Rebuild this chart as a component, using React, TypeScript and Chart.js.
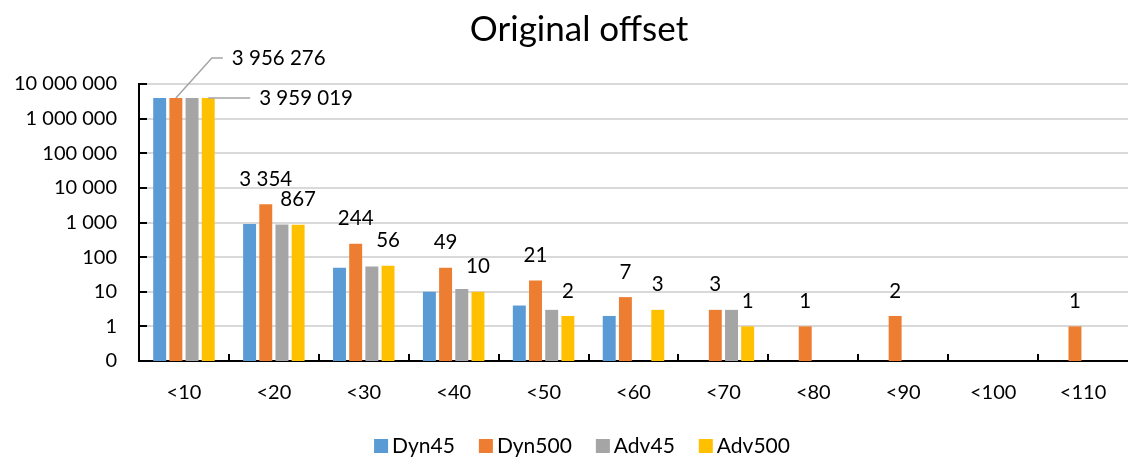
import React, { useEffect, useRef } from "react";
import { Chart, registerables } from "chart.js";

Chart.register(...registerables);

const categories = ["<10", "<20", "<30", "<40", "<50", "<60", "<70", "<80", "<90", "<100", "<110"];
const seriesNames = ["Dyn45", "Dyn500", "Adv45", "Adv500"];
const seriesColors = ["#5B9BD5", "#ED7D31", "#A5A5A5", "#FFC000"];
const dyn45 = [3950000, 900, 49, 10, 4, 2, null, null, null, null, null];
const dyn500 = [3956276, 3354, 244, 49, 21, 7, 3, 1, 2, null, 1];
const adv45 = [3955000, 870, 54, 12, 3, null, 3, null, null, null, null];
const adv500 = [3959019, 867, 56, 10, 2, 3, 1, null, null, null, null];
const yTickValues = [0.1, 1, 10, 100, 1000, 10000, 100000, 1000000, 10000000];
const labelledSeries = [1, 3];
const titleText = "Original offset";

const FONT = "Lato";

function fmt(v: number): string {
  if (v < 1) return "0";
  return String(Math.round(v)).replace(/\B(?=(\d{3})+(?!\d))/g, " ");
}

const overlay = {
  id: "overlay",
  afterDatasetsDraw(chart: any) {
    const ctx = chart.ctx as CanvasRenderingContext2D;
    const xs = chart.scales.x;
    const ys = chart.scales.y;
    const area = chart.chartArea;
    ctx.save();
    ctx.strokeStyle = "#000";
    ctx.lineWidth = 2;
    // inward y ticks
    yTickValues.forEach((v) => {
      const py = Math.round(ys.getPixelForValue(v));
      ctx.beginPath();
      ctx.moveTo(area.left, py);
      ctx.lineTo(area.left + 8, py);
      ctx.stroke();
    });
    // inward x ticks at category boundaries
    for (let i = 1; i < categories.length; i++) {
      const px = Math.round((xs.getPixelForValue(i - 1) + xs.getPixelForValue(i)) / 2);
      ctx.beginPath();
      ctx.moveTo(px, area.bottom);
      ctx.lineTo(px, area.bottom - 7);
      ctx.stroke();
    }
    // data labels
    ctx.fillStyle = "#000";
    ctx.font = `20.5px ${FONT}`;
    ctx.textBaseline = "middle";
    labelledSeries.forEach((di) => {
      const meta = chart.getDatasetMeta(di);
      const values = chart.data.datasets[di].data;
      meta.data.forEach((bar: any, i: number) => {
        const v = values[i];
        if (v == null) return;
        if (i === 0) {
          ctx.strokeStyle = "#A5A5A5";
          ctx.lineWidth = 1.5;
          ctx.textAlign = "left";
          if (di === 1) {
            ctx.beginPath();
            ctx.moveTo(bar.x, bar.y);
            ctx.lineTo(bar.x + 36, bar.y - 40);
            ctx.lineTo(bar.x + 47, bar.y - 40);
            ctx.stroke();
            ctx.fillText(fmt(v), bar.x + 56, bar.y - 40);
          } else {
            ctx.beginPath();
            ctx.moveTo(bar.x, bar.y);
            ctx.lineTo(bar.x + 42, bar.y);
            ctx.stroke();
            ctx.fillText(fmt(v), bar.x + 51, bar.y);
          }
          return;
        }
        ctx.textAlign = "center";
        ctx.fillText(fmt(v), bar.x, bar.y - 25);
      });
    });
    ctx.restore();
  },
  afterDraw(chart: any) {
    const ctx = chart.ctx as CanvasRenderingContext2D;
    ctx.save();
    // title
    ctx.fillStyle = "#000";
    ctx.font = `35px ${FONT}`;
    ctx.textBaseline = "middle";
    ctx.textAlign = "center";
    ctx.fillText(titleText, 579, 30);
    // legend
    ctx.font = `21px ${FONT}`;
    ctx.textAlign = "left";
    const box = 14;
    const gapBox = 4;
    const gapItem = 24;
    const widths = seriesNames.map((n) => ctx.measureText(n).width);
    const total = widths.reduce((a, w) => a + box + gapBox + w, 0) + gapItem * (seriesNames.length - 1);
    let x = 582 - total / 2;
    const cy = 446;
    seriesNames.forEach((n, i) => {
      ctx.fillStyle = seriesColors[i];
      ctx.fillRect(x, cy - box / 2, box, box);
      ctx.fillStyle = "#000";
      ctx.fillText(n, x + box + gapBox, cy);
      x += box + gapBox + widths[i] + gapItem;
    });
    ctx.restore();
  },
};

export default function App() {
  const ref = useRef<HTMLCanvasElement | null>(null);
  useEffect(() => {
    document.body.style.margin = "0";
    if (!ref.current) return;
    const allSeries = [dyn45, dyn500, adv45, adv500];
    const chart = new Chart(ref.current, {
      type: "bar",
      data: {
        labels: categories,
        datasets: allSeries.map((d, i) => ({
          label: seriesNames[i],
          data: d,
          backgroundColor: seriesColors[i],
          borderWidth: 0,
          barPercentage: 0.8,
          categoryPercentage: 0.72,
        })),
      },
      options: {
        animation: false,
        responsive: false,
        maintainAspectRatio: false,
        layout: { padding: { left: 0, right: 0, top: 84, bottom: 46 } },
        plugins: {
          legend: { display: false },
          tooltip: { enabled: false },
          title: { display: false },
        },
        scales: {
          x: {
            grid: { display: false, drawTicks: false },
            border: { display: true, color: "#000", width: 2 },
            ticks: { color: "#000", font: { family: FONT, size: 20 }, padding: 20, maxRotation: 0 },
            afterFit: (s: any) => {
              s.height = 50;
            },
          },
          y: {
            type: "logarithmic",
            min: 0.1,
            max: 10000000,
            grid: { color: "#D9D9D9", lineWidth: 2, drawTicks: false },
            border: { display: true, color: "#000", width: 2 },
            ticks: {
              color: "#000",
              font: { family: FONT, size: 20 },
              padding: 22,
              autoSkip: false,
              callback: (v: any) => fmt(Number(v)),
            },
            afterBuildTicks: (s: any) => {
              s.ticks = yTickValues.map((v) => ({ value: v }));
            },
            afterFit: (s: any) => {
              s.width = 139;
            },
          },
        },
      },
      plugins: [overlay],
    });
    return () => chart.destroy();
  }, []);
  return (
    <div style={{ width: 1128, height: 457 }}>
      <canvas ref={ref} width={1128} height={457} style={{ width: 1128, height: 457, display: "block" }} />
    </div>
  );
}
